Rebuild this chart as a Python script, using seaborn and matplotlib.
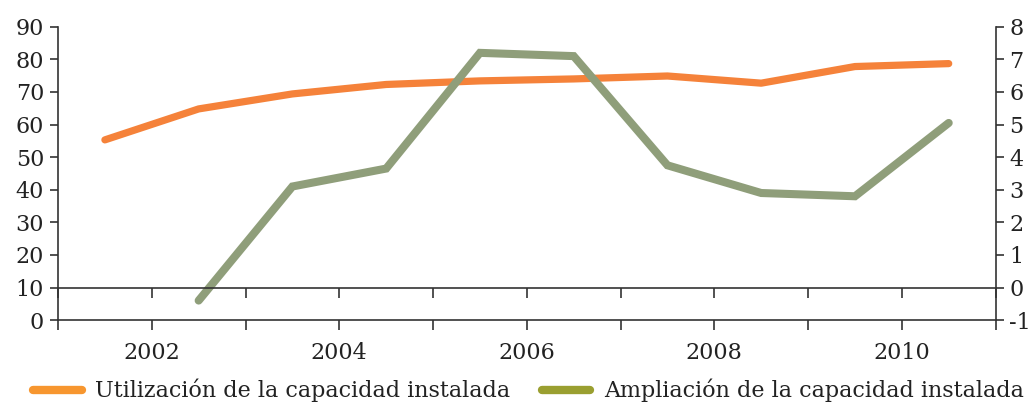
import numpy as np
import pandas as pd
import matplotlib
matplotlib.use("Agg")
import matplotlib.pyplot as plt
from matplotlib.lines import Line2D
import seaborn as sns

# ---- data ----
years = [2001.5, 2002.5, 2003.5, 2004.5, 2005.5, 2006.5, 2007.5, 2008.5, 2009.5, 2010.5]
utilizacion = [55.3, 64.8, 69.4, 72.3, 73.4, 74.0, 74.9, 72.7, 77.8, 78.7]
ampliacion = [np.nan, -0.4, 3.1, 3.65, 7.2, 7.1, 3.75, 2.9, 2.8, 5.05]

label_util = "Utilización de la capacidad instalada"
label_ampl = "Ampliación de la capacidad instalada"

left_ticks = list(range(0, 100, 10))
right_ticks = list(range(-1, 9))
x_ticks = list(range(2001, 2012))
x_labels = ["", "2002", "", "2004", "", "2006", "", "2008", "", "2010", ""]

ORANGE = "#F5823A"
GREEN = "#8F9E7A"
ORANGE_LEG = "#F7962F"
GREEN_LEG = "#9A9F30"

df = pd.DataFrame({"year": years, "util": utilizacion, "ampl": ampliacion})

sns.set_style("white")
plt.rcParams["font.family"] = ["DejaVu Serif"]
plt.rcParams["text.color"] = "#222222"
plt.rcParams["axes.unicode_minus"] = False

fig = plt.figure(figsize=(10.36, 4.12), dpi=100)
ax = fig.add_axes([0.056, 0.223, 0.905, 0.712])
ax2 = ax.twinx()

sns.lineplot(data=df, x="year", y="util", ax=ax, color=ORANGE, linewidth=5.2,
             solid_capstyle="round")
sns.lineplot(data=df.dropna(), x="year", y="ampl", ax=ax2, color=GREEN, linewidth=5.8,
             solid_capstyle="round", solid_joinstyle="miter")

ax.set_xlim(2001, 2011)
ax.set_ylim(0, 90)
ax2.set_ylim(-1, 8)
ax.set_yticks(left_ticks)
ax2.set_yticks(right_ticks)
ax.set_xticks(x_ticks)
ax.set_xticklabels(x_labels)
for a in (ax, ax2):
    a.set_xlabel("")
    a.set_ylabel("")

axis_color = "#333333"
for a in (ax, ax2):
    for s in a.spines.values():
        s.set_color(axis_color)
        s.set_linewidth(1.2)
    a.spines["top"].set_visible(False)

ax.spines["right"].set_visible(False)
ax2.spines["left"].set_visible(False)
# secondary horizontal axis crossing at zero, ticks only
ax2.xaxis.set_visible(True)
ax2.spines["bottom"].set_position(("data", 0))
ax2.xaxis.set_ticks_position("bottom")
ax2.tick_params(axis="x", direction="out", length=7, width=1.2, colors=axis_color,
                bottom=True, labelbottom=False)

ax.tick_params(axis="x", direction="out", length=7, width=1.2, color=axis_color,
               labelsize=16, labelcolor="#222222", pad=9, bottom=True)
ax.tick_params(axis="y", direction="out", length=6, width=1.2, color=axis_color,
               labelsize=16, labelcolor="#222222", pad=4, left=True)
ax2.tick_params(axis="y", direction="out", length=6, width=1.2, color=axis_color,
                labelsize=16, labelcolor="#222222", pad=4, right=True)

ax2.set_zorder(ax.get_zorder() + 1)
ax2.patch.set_visible(False)

handles = [
    Line2D([0], [0], color=ORANGE_LEG, linewidth=6, solid_capstyle="round"),
    Line2D([0], [0], color=GREEN_LEG, linewidth=6, solid_capstyle="round"),
]
fig.legend(handles, [label_util, label_ampl], loc="lower center", ncol=2,
           bbox_to_anchor=(0.51, -0.025), frameon=False, fontsize=16,
           handlelength=2.2, columnspacing=1.4, handletextpad=0.6)

fig.savefig("out.png", dpi=100)
